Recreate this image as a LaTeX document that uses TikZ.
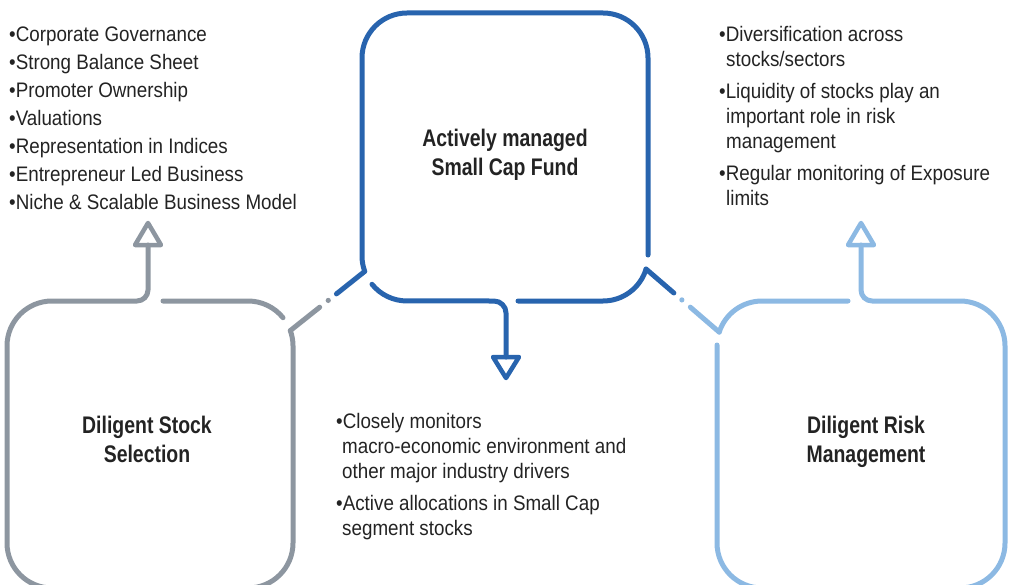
\documentclass[tikz,border=0pt]{standalone}
\usepackage{fontspec}
\usetikzlibrary{calc}
\newfontfamily\regfont{Liberation Sans}[FakeStretch=0.895]
\newfontfamily\ttlfont{Liberation Sans}[FakeStretch=0.81]
\definecolor{tblue}{HTML}{2864AE}
\definecolor{ggray}{HTML}{8D96A0}
\definecolor{lblue}{HTML}{8CB9E3}
\definecolor{txt}{HTML}{232323}
\tikzset{
  edge/.style={line width=5pt, line cap=round, line join=round},
  tri/.style={line width=4.5pt, line join=round, line cap=round},
  item/.style={anchor=base west, inner sep=0pt, text=txt, font=\regfont\fontsize{21}{25}\selectfont},
  ttl/.style={anchor=base, inner sep=0pt, text=txt, font=\ttlfont\bfseries\fontsize{24}{29}\selectfont},
}
\begin{document}
\begin{tikzpicture}[x=1pt,y=-1pt]
\useasboundingbox (0,0) rectangle (1016,585);
\clip (0,0) rectangle (1016,585);
% corner tips
\coordinate (Ttl) at (364.7,271.4);
\coordinate (Ttr) at (646,269);
\coordinate (Gtr) at (290.3,330.6);
\coordinate (Rtl) at (719.2,332.1);
% ---------- top box (dark blue)
\draw[edge,tblue] (648,255) -- (648,58) arc[start angle=0,end angle=90,radius=45pt]
  -- (407,13) arc[start angle=90,end angle=180,radius=45pt]
  -- (362,256) arc[start angle=180,end angle=200,radius=45pt];
\draw[edge,tblue] (372,284.3) arc[start angle=219,end angle=270,radius=45pt]
  -- (494,301) arc[start angle=90,end angle=0,radius=12pt] -- (506,357);
\draw[tri,tblue] (493,357) -- (519,357) -- (506,378) -- cycle;
\draw[edge,tblue] (518,301) -- (603,301) arc[start angle=270,end angle=343,radius=45pt];
% ---------- left box (gray)
\draw[edge,ggray] (Gtr) arc[start angle=20,end angle=0,radius=45pt]
  -- (293,543) arc[start angle=0,end angle=-90,radius=45pt]
  -- (52,588) arc[start angle=-90,end angle=-180,radius=45pt]
  -- (7,346) arc[start angle=180,end angle=90,radius=45pt]
  -- (137,301) arc[start angle=270,end angle=360,radius=11pt] -- (148,245);
\draw[tri,ggray] (135,245) -- (161,245) -- (148,223) -- cycle;
\draw[edge,ggray] (163,301) -- (248,301) arc[start angle=90,end angle=39,radius=45pt];
% ---------- right box (light blue)
\draw[edge,lblue] (Rtl) arc[start angle=162,end angle=90,radius=45pt] -- (848,301);
\draw[edge,lblue] (861,245) -- (861,290) arc[start angle=180,end angle=270,radius=11pt]
  -- (960,301) arc[start angle=90,end angle=0,radius=45pt]
  -- (1005,543) arc[start angle=0,end angle=-90,radius=45pt]
  -- (762,588) arc[start angle=-90,end angle=-180,radius=45pt] -- (717,345);
\draw[tri,lblue] (848,245) -- (874,245) -- (861,223) -- cycle;
% ---------- dash-dot links
\draw[edge,tblue] (Ttl) -- ($(Ttl)!0.38!(Gtr)$);
\fill[ggray] ($(Ttl)!0.49!(Gtr)$) circle[radius=2.6pt];
\draw[edge,ggray] ($(Ttl)!0.605!(Gtr)$) -- (Gtr);
\draw[edge,tblue] (Ttr) -- ($(Ttr)!0.38!(Rtl)$);
\fill[lblue] ($(Ttr)!0.49!(Rtl)$) circle[radius=2.6pt];
\draw[edge,lblue] ($(Ttr)!0.605!(Rtl)$) -- (Rtl);
% ---------- titles
\node[ttl] (t1) at (505,147) {Actively managed};
\node[ttl] (t2) at (505,176) {Small Cap Fund};
\node[ttl] (g1) at (147,433) {Diligent Stock};
\node[ttl] (g2) at (147,462) {Selection};
\node[ttl] (k1) at (866,433) {Diligent Risk};
\node[ttl] (k2) at (866,462) {Management};
% ---------- left list
\node[item] (l1) at (9,42) {•Corporate Governance};
\node[item] (l2) at (9,70) {•Strong Balance Sheet};
\node[item] (l3) at (9,98) {•Promoter Ownership};
\node[item] (l4) at (9,126) {•Valuations};
\node[item] (l5) at (9,154) {•Representation in Indices};
\node[item] (l6) at (9,182) {•Entrepreneur Led Business};
\node[item] (l7) at (9,210) {•Niche \& Scalable Business Model};
% ---------- right list
\node[item] (r1) at (719,42) {•Diversification across};
\node[item] (r2) at (726,67) {stocks/sectors};
\node[item] (r3) at (719,99) {•Liquidity of stocks play an};
\node[item] (r4) at (726,124) {important role in risk};
\node[item] (r5) at (726,149) {management};
\node[item] (r6) at (719,181) {•Regular monitoring of Exposure};
\node[item] (r7) at (726,206) {limits};
% ---------- middle list
\node[item] (m1) at (336,428) {•Closely monitors};
\node[item] (m2) at (342,453) {macro-economic environment and};
\node[item] (m3) at (342,478) {other major industry drivers};
\node[item] (m4) at (336,510) {•Active allocations in Small Cap};
\node[item] (m5) at (342,535) {segment stocks};
\end{tikzpicture}
\end{document}
